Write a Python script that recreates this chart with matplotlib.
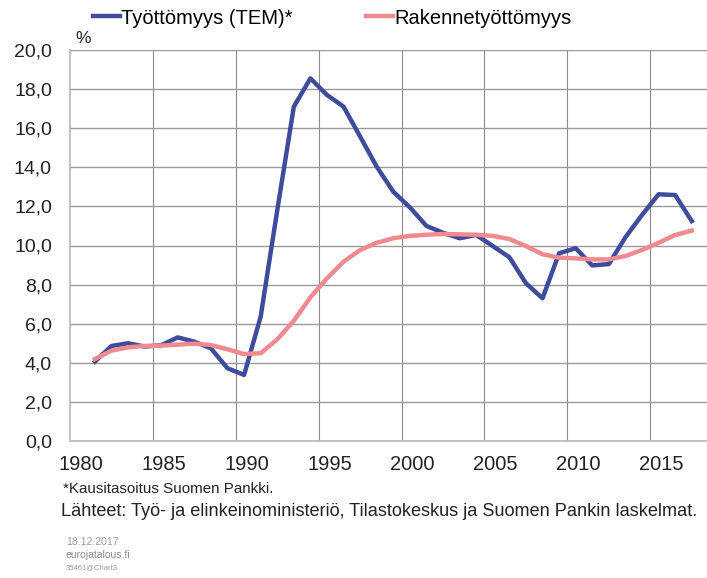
import matplotlib
matplotlib.use("Agg")
import matplotlib.pyplot as plt
import numpy as np

years = list(range(1981, 2018))
tem = [4.06, 4.86, 5.0, 4.83, 4.9, 5.3, 5.08, 4.74, 3.72, 3.38,
       6.36, 11.8, 17.1, 18.55, 17.7, 17.1, 15.57, 14.03, 12.75, 11.95,
       11.0, 10.65, 10.37, 10.54, 9.97, 9.4, 8.07, 7.3, 9.6, 9.86,
       8.98, 9.05, 10.42, 11.56, 12.62, 12.58, 11.25]
rakenne = [4.19, 4.62, 4.79, 4.86, 4.88, 4.93, 4.98, 4.91, 4.69, 4.45,
           4.49, 5.2, 6.15, 7.35, 8.32, 9.17, 9.77, 10.14, 10.37, 10.49,
           10.55, 10.59, 10.57, 10.55, 10.49, 10.33, 9.97, 9.55, 9.38, 9.34,
           9.29, 9.29, 9.46, 9.77, 10.14, 10.54, 10.76]
tick_years = [1980, 1985, 1990, 1995, 2000, 2005, 2010, 2015]
y_ticks = [0, 2, 4, 6, 8, 10, 12, 14, 16, 18, 20]

plt.rcParams['font.family'] = ['Liberation Sans', 'DejaVu Sans']

fig = plt.figure(figsize=(7.07, 5.78), dpi=100)
ax = fig.add_axes([70 / 707, 137 / 578, 637 / 707, 391 / 578])

x = np.array(years) + 0.5
l1, = ax.plot(x, tem, color='#3F4B9C', lw=3.2, solid_joinstyle='round', zorder=3)
l2, = ax.plot(x, rakenne, color='#F08A8F', lw=3.2, solid_joinstyle='round', zorder=3)

ax.set_xlim(1980, 2018.42)
ax.set_ylim(0, 20)

# gridlines at category boundaries, labels centered a bit to the right
for yr in tick_years[1:] + [2020]:
    ax.axvline(yr, color='#8a8a8a', lw=0.8, zorder=1)
for v in y_ticks[1:]:
    ax.axhline(v, color='#9a9a9a', lw=1.0, zorder=1)

ax.set_xticks([yr + 0.67 for yr in tick_years])
ax.set_xticklabels([str(yr) for yr in tick_years], fontsize=14.5)
ax.set_yticks(y_ticks)
ax.set_yticklabels([f"{v:.1f}".replace('.', ',') for v in y_ticks], fontsize=14)
ax.tick_params(axis='both', length=0, colors='#222222')
ax.tick_params(axis='y', pad=13)
ax.tick_params(axis='x', pad=10)

for side in ['top', 'right']:
    ax.spines[side].set_visible(False)
for side in ['left', 'bottom']:
    ax.spines[side].set_color('#bdbdbd')
    ax.spines[side].set_linewidth(1.3)

fig.legend([l1, l2], ["Työttömyys (TEM)*", "Rakennetyöttömyys"],
           loc='center left', bbox_to_anchor=(93 / 707, 1 - 18 / 578),
           ncol=2, frameon=False, fontsize=14.5, handlelength=1.35,
           handletextpad=0.05, columnspacing=3.65, borderpad=0, borderaxespad=0)

fig.text(75 / 707, 1 - 38.5 / 578, "%", fontsize=12.5, va='center', ha='left', color='#222222')
fig.text(63 / 707, 1 - 489 / 578, "*Kausitasoitus Suomen Pankki.", fontsize=10.9,
         va='center', ha='left', color='#222222')
fig.text(61 / 707, 1 - 512 / 578,
         "Lähteet: Työ- ja elinkeinoministeriö, Tilastokeskus ja Suomen Pankin laskelmat.",
         fontsize=13.1, va='center', ha='left', color='#222222')
fig.text(66 / 707, 1 - 542 / 578, "18.12.2017", fontsize=7.5, va='center', ha='left', color='#9a9a9a')
fig.text(66 / 707, 1 - 555 / 578, "eurojatalous.fi", fontsize=7.5, va='center', ha='left', color='#8a8a8a')
fig.text(66 / 707, 1 - 568 / 578, "35461@Chart3", fontsize=5.5, va='center', ha='left', color='#9a9a9a')

fig.savefig("out.png", dpi=100)
